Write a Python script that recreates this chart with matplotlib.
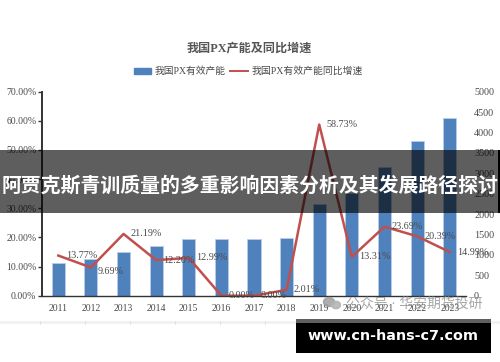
import matplotlib as mpl
mpl.use('Agg')
import matplotlib.pyplot as plt
from matplotlib.patches import Rectangle, Ellipse
from matplotlib.lines import Line2D
import numpy as np

mpl.rcParams['font.family'] = ['Liberation Serif', 'Noto Sans CJK SC', 'DejaVu Sans']

years = ['2011', '2012', '2013', '2014', '2015', '2016', '2017', '2018', '2019', '2020', '2021', '2022', '2023']
capacity = [810, 900, 1080, 1220, 1390, 1390, 1390, 1415, 2245, 2515, 3150, 3790, 4355]
growth = [13.77, 9.69, 21.19, 12.20, 12.99, 0.00, 0.00, 2.01, 58.73, 13.31, 23.69, 20.39, 14.99]
growth_labels = ['13.77%', '9.69%', '21.19%', '12.20%', '12.99%', '0.00%', '0.00%', '2.01%',
                 '58.73%', '13.31%', '23.69%', '20.39%', '14.99%']
left_ticks = [0, 10, 20, 30, 40, 50, 60, 70]
right_ticks = [0, 500, 1000, 1500, 2000, 2500, 3000, 3500, 4000, 4500, 5000]

W, H = 500, 362
text_col = '#4a4a4a'
bar_col = '#4f81bd'
line_col = '#c0504d'

fig = plt.figure(figsize=(W / 100, H / 100), dpi=100, facecolor='white')
# axes box in pixels: x 42-466, y 91.7-295.7 from the top
ax = fig.add_axes([42 / W, 1 - 295.7 / H, 424 / W, 204 / H])
ax2 = ax.twinx()
x = np.arange(len(years))

ax2.bar(x, capacity, width=0.4, color=bar_col, edgecolor='#b9cde6', linewidth=0.6)
ax2.set_ylim(0, 5000)
ax2.set_yticks(right_ticks)
ax2.tick_params(axis='y', length=0, labelsize=7.3, labelcolor=text_col, pad=5.8)

ax.set_zorder(ax2.get_zorder() + 1)
ax.patch.set_visible(False)
ax.plot(x, growth, color=line_col, linewidth=1.8)
ax.set_xlim(-0.5, 12.5)
ax.set_ylim(0, 70)
ax.set_xticks(x)
ax.set_xticklabels(years)
ax.set_yticks(left_ticks)
ax.set_yticklabels(['%.2f%%' % t for t in left_ticks])
ax.tick_params(axis='y', direction='out', length=3, width=1, color='#333333', labelsize=7, labelcolor=text_col, pad=1)
ax.tick_params(axis='x', length=0, labelsize=7, labelcolor=text_col, pad=6)

for s in ['top', 'right']:
    ax.spines[s].set_visible(False)
for s in ['top', 'right', 'left', 'bottom']:
    ax2.spines[s].set_visible(False)
ax.spines['left'].set_linewidth(1.4)
ax.spines['left'].set_color('#333333')
ax.spines['bottom'].set_linewidth(1.0)
ax.spines['bottom'].set_color('#333333')

# value labels sit to the right of each point
for i, lab in enumerate(growth_labels):
    dy = -4 if i == 1 else 0
    dx = 20 if i in (1, 5, 6, 7) else 23
    ax.annotate(lab, (i, growth[i]), xytext=(dx * 0.72, dy * 0.72), textcoords='offset points',
                ha='center', va='center', fontsize=7.3, color=text_col, clip_on=False)

fig.text(249 / W, 1 - 48 / H, '我国PX产能及同比增速', ha='center', va='center', fontsize=8.7,
         color='#555555', fontweight='bold')

# legend placed by hand to keep the original spacing
fig.add_artist(Rectangle((134 / W, 1 - 74 / H), 17 / W, 6 / H, transform=fig.transFigure, color=bar_col))
fig.text(155 / W, 1 - 71 / H, '我国PX有效产能', ha='left', va='center', fontsize=7, color=text_col)
fig.add_artist(Line2D([230 / W, 248 / W], [1 - 71 / H, 1 - 71 / H], transform=fig.transFigure,
                      color=line_col, linewidth=1.4))
fig.text(252 / W, 1 - 71 / H, '我国PX有效产能同比增速', ha='left', va='center', fontsize=7.1, color=text_col)

# watermark with the small chat icon
fig.add_artist(Ellipse((329 / W, 1 - 302 / H), 11 / W, 9 / H, transform=fig.transFigure, color='#9a9a9a', alpha=0.8, zorder=5))
fig.add_artist(Ellipse((336 / W, 1 - 305 / H), 9 / W, 7.5 / H, transform=fig.transFigure, color='#b5b5b5', alpha=0.9, zorder=5))
fig.text(414 / W, 1 - 304 / H, '公众号 · 华安期货投研', ha='center', va='center', fontsize=10,
         color='#8a8a8a', alpha=0.75, zorder=5)

# faint page edge under the chart, with its small cell marks
fig.add_artist(Rectangle((0, 1 - 324 / H), 1, 3 / H, transform=fig.transFigure, color='#f2f2f2', zorder=4, linewidth=0))
for px in range(40, 270, 45):
    fig.add_artist(Line2D([px / W, px / W], [1 - 324 / H, 1 - 321 / H], transform=fig.transFigure,
                          color='#dddddd', linewidth=0.6, zorder=4))

# dark headline band with white title
fig.add_artist(Rectangle((0, 1 - 213 / H), 1, 63 / H, transform=fig.transFigure, color='black',
                         alpha=0.63, zorder=10, linewidth=0))
fig.add_artist(Rectangle((498 / W, 1 - 213 / H), 2 / W, 63 / H, transform=fig.transFigure, color='black',
                         zorder=10, linewidth=0))
fig.text(250 / W, 1 - 185 / H, '阿贾克斯青训质量的多重影响因素分析及其发展路径探讨', ha='center', va='center',
         fontsize=14.3, color='white', fontweight='bold', family=['Noto Sans CJK SC', 'DejaVu Sans'], zorder=11)

# site stamp bottom right, grey strip on top
fig.add_artist(Rectangle((296 / W, 1 - 353 / H), 195 / W, 30 / H, transform=fig.transFigure, color='black',
                         zorder=10, linewidth=0))
fig.add_artist(Rectangle((296 / W, 1 - 323 / H), 195 / W, 4 / H, transform=fig.transFigure, color='#5f5f5f',
                         zorder=10, linewidth=0))
fig.text(393 / W, 1 - 336.5 / H, 'www.cn-hans-c7.com', ha='center', va='center', fontsize=10.4,
         color='white', fontweight='bold', family=['DejaVu Sans'], zorder=11)

fig.savefig('out.png', dpi=100)
